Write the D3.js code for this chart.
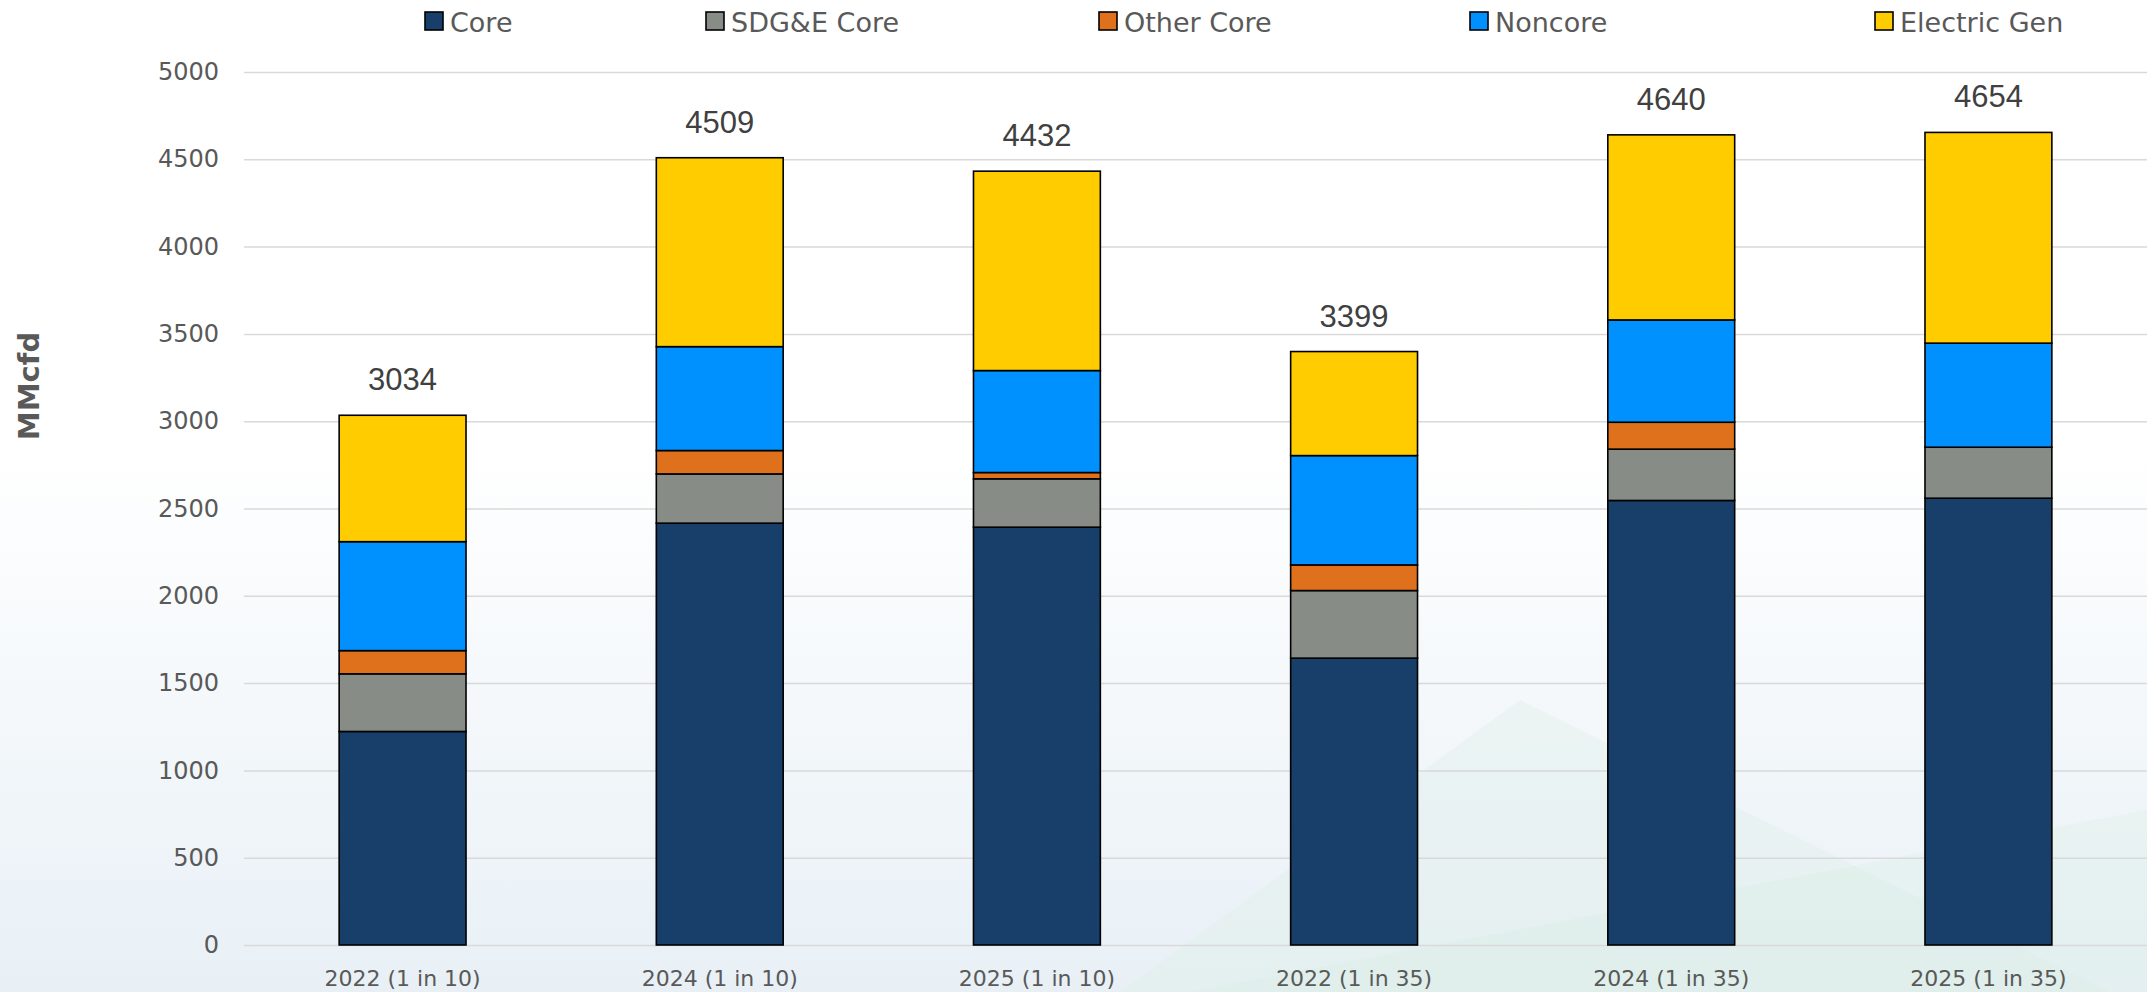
<!DOCTYPE html>
<html>
<head>
<meta charset="utf-8">
<script src="https://cdn.jsdelivr.net/npm/d3@7"></script>
<style>
  html, body { margin: 0; padding: 0; background: #fff; }
  svg { display: block; }
</style>
</head>
<body>
<svg id="viz-winter-peak"></svg>
<script>
(function() {

// Peak day demand by customer class, MMcfd
const categories = ["2022 (1 in 10)", "2024 (1 in 10)", "2025 (1 in 10)", "2022 (1 in 35)", "2024 (1 in 35)", "2025 (1 in 35)"];
const seriesNames = ["Core", "SDG&E Core", "Other Core", "Noncore", "Electric Gen"];
const core        = [1223, 2416, 2393, 1643, 2546, 2559];
const sdgeCore    = [330, 282, 277, 387, 294, 292];
const otherCore   = [133, 134, 36, 147, 154, 0];
const noncore     = [624, 595, 584, 626, 586, 596];
const electricGen = [724, 1082, 1142, 596, 1060, 1207];
const yTicks      = [0, 500, 1000, 1500, 2000, 2500, 3000, 3500, 4000, 4500, 5000];

const colors = ["#173f6a", "#878c86", "#e0711c", "#0091ff", "#ffcc00"];

const W = 2147, H = 992;
const margin = { top: 72, right: 0, bottom: 47, left: 244 };
const width = W - margin.left - margin.right;
const height = H - margin.top - margin.bottom;

const svg = d3.select("#viz-winter-peak")
    .attr("width", W)
    .attr("height", H);

// background wash
const defs = svg.append("defs");
const grad = defs.append("linearGradient")
    .attr("id", "bg-grad")
    .attr("x1", 0).attr("y1", 0).attr("x2", 0).attr("y2", 1);
grad.append("stop").attr("offset", "0.45").attr("stop-color", "#ffffff");
grad.append("stop").attr("offset", "1").attr("stop-color", "#e8f0f6");

svg.append("rect")
    .attr("width", W).attr("height", H)
    .attr("fill", "url(#bg-grad)");

svg.append("polygon")
    .attr("points", "1120,992 1520,700 2110,992")
    .attr("fill", "#dcefe6")
    .attr("opacity", 0.35);
svg.append("polygon")
    .attr("points", "1190,992 2147,810 2147,992")
    .attr("fill", "#d6ede2")
    .attr("opacity", 0.3);

const g = svg.append("g")
    .attr("transform", `translate(${margin.left},${margin.top})`);

const x = d3.scaleBand()
    .domain(categories)
    .range([0, width])
    .paddingInner(0.6)
    .paddingOuter(0.3);

const y = d3.scaleLinear()
    .domain([0, 5000])
    .range([height, 0]);

// gridlines + y labels
const yAxis = g.append("g")
    .call(d3.axisLeft(y).tickValues(yTicks).tickSize(-width).tickPadding(25).tickFormat(d3.format("d")));
yAxis.select(".domain").remove();
yAxis.selectAll(".tick line")
    .attr("stroke", "#d9d9d9")
    .attr("stroke-width", 1.5);
yAxis.selectAll(".tick text")
    .attr("font-family", "Tahoma, 'DejaVu Sans', sans-serif")
    .attr("font-size", "24px")
    .attr("fill", "#595959");

// x labels
const xAxis = g.append("g")
    .attr("transform", `translate(0,${height})`)
    .call(d3.axisBottom(x).tickSize(0));
xAxis.select(".domain").remove();
xAxis.selectAll(".tick text")
    .attr("y", 41)
    .attr("dy", 0)
    .attr("font-family", "Tahoma, 'DejaVu Sans', sans-serif")
    .attr("font-size", "22px")
    .attr("fill", "#595959");

// stacked bars
const rows = categories.map((c, i) => ({
    cat: c,
    "Core": core[i],
    "SDG&E Core": sdgeCore[i],
    "Other Core": otherCore[i],
    "Noncore": noncore[i],
    "Electric Gen": electricGen[i]
}));

const stack = d3.stack().keys(seriesNames)(rows);

g.selectAll(".series")
    .data(stack)
    .enter().append("g")
    .attr("class", "series")
    .attr("fill", (d, i) => colors[i])
    .selectAll("rect")
    .data(d => d.filter(s => s[1] - s[0] > 0))
    .enter().append("rect")
    .attr("x", d => x(d.data.cat))
    .attr("y", d => y(d[1]))
    .attr("width", x.bandwidth())
    .attr("height", d => y(d[0]) - y(d[1]))
    .attr("stroke", "#000")
    .attr("stroke-width", 1.6);

// totals above each bar
g.selectAll(".total")
    .data(rows)
    .enter().append("text")
    .attr("class", "total")
    .attr("x", d => x(d.cat) + x.bandwidth() / 2)
    .attr("y", d => y(d3.sum(seriesNames, k => d[k])) - 25)
    .attr("text-anchor", "middle")
    .attr("font-family", "'Liberation Sans', Arial, sans-serif")
    .attr("font-size", "31px")
    .attr("fill", "#404040")
    .text(d => d3.sum(seriesNames, k => d[k]));

// y-axis title
svg.append("text")
    .attr("transform", "translate(39,386) rotate(-90)")
    .attr("text-anchor", "middle")
    .attr("font-family", "Verdana, 'DejaVu Sans', sans-serif")
    .attr("font-weight", "bold")
    .attr("font-size", "29px")
    .attr("fill", "#595959")
    .text("MMcfd");

// legend
const legendX = [425, 706, 1099, 1470, 1875];
const legend = svg.append("g")
    .selectAll("g")
    .data(seriesNames)
    .enter().append("g")
    .attr("transform", (d, i) => `translate(${legendX[i]},12)`);

legend.append("rect")
    .attr("width", 18)
    .attr("height", 18)
    .attr("fill", (d, i) => colors[i])
    .attr("stroke", "#000")
    .attr("stroke-width", 1.6);

legend.append("text")
    .attr("x", 25)
    .attr("y", 20)
    .attr("font-family", "Tahoma, 'DejaVu Sans', sans-serif")
    .attr("font-size", "27px")
    .attr("fill", "#595959")
    .text(d => d);

})();
</script>
</body>
</html>
